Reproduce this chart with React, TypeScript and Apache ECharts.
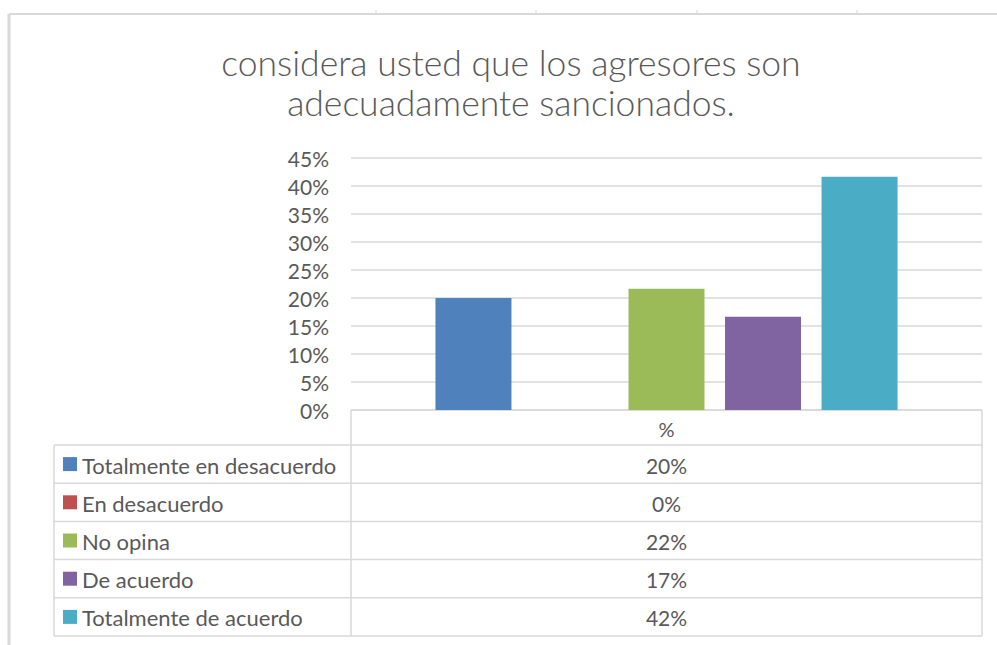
import React, { useEffect, useRef } from "react";
import * as echarts from "echarts";

const titleLines = ["considera usted que los agresores son", "adecuadamente sancionados."];
const categoryLabel = "%";
const seriesNames = [
  "Totalmente en desacuerdo",
  "En desacuerdo",
  "No opina",
  "De acuerdo",
  "Totalmente de acuerdo",
];
const seriesValues = [20.0, 0, 21.67, 16.67, 41.67];
const seriesColors = ["#4f81bd", "#c0504d", "#9bbb59", "#8064a2", "#4bacc6"];
const yTicks = { min: 0, max: 45, interval: 5 };

const FONT = "Lato, 'Open Sans', sans-serif";
const TEXT = "#595959";
const LINE = "#d9d9d9";

export default function App() {
  const ref = useRef<HTMLDivElement>(null);
  useEffect(() => {
    document.body.style.margin = "0";
    const chart = echarts.init(ref.current!, null, { renderer: "svg" });

    const plotLeft = 351;
    const plotRight = 982;
    const plotTop = 158;
    const plotBottom = 410;
    const tableLeft = 54;
    const headerBottom = 445;
    const rowH = 38.2;
    const tableBottom = headerBottom + rowH * seriesNames.length;
    const valueX = (plotLeft + plotRight) / 2;

    const graphics: any[] = [];
    graphics.push({ type: "line", shape: { x1: 9, y1: 14, x2: 997, y2: 14 }, style: { stroke: LINE, lineWidth: 2 } });
    graphics.push({ type: "line", shape: { x1: 9, y1: 14, x2: 9, y2: 645 }, style: { stroke: LINE, lineWidth: 3 } });
    [376, 536, 697, 857].forEach((x) =>
      graphics.push({ type: "line", shape: { x1: x, y1: 10, x2: x, y2: 14 }, style: { stroke: LINE, lineWidth: 1 } })
    );
    graphics.push({ type: "line", shape: { x1: plotLeft, y1: plotBottom, x2: plotRight, y2: plotBottom }, style: { stroke: LINE, lineWidth: 1.5 } });
    for (let i = 0; i <= seriesNames.length; i++) {
      const y = headerBottom + rowH * i;
      graphics.push({ type: "line", shape: { x1: tableLeft, y1: y, x2: plotRight, y2: y }, style: { stroke: LINE, lineWidth: 1.5 } });
    }
    graphics.push({ type: "line", shape: { x1: tableLeft, y1: headerBottom, x2: tableLeft, y2: tableBottom }, style: { stroke: LINE, lineWidth: 1.5 } });
    graphics.push({ type: "line", shape: { x1: plotLeft, y1: plotBottom, x2: plotLeft, y2: tableBottom }, style: { stroke: LINE, lineWidth: 1.5 } });
    graphics.push({ type: "line", shape: { x1: plotRight, y1: plotBottom, x2: plotRight, y2: tableBottom }, style: { stroke: LINE, lineWidth: 1.5 } });
    graphics.push({
      type: "text",
      x: valueX,
      y: (plotBottom + headerBottom) / 2 + 1,
      style: { text: categoryLabel, fill: TEXT, font: `20px ${FONT}`, align: "center", verticalAlign: "middle" },
    });
    seriesNames.forEach((name, i) => {
      const cy = headerBottom + rowH * i + rowH / 2;
      graphics.push({ type: "rect", shape: { x: 63, y: cy - 7, width: 14, height: 14 }, style: { fill: seriesColors[i] } });
      graphics.push({
        type: "text",
        x: 82,
        y: cy + 1,
        style: { text: name, fill: TEXT, font: `22px ${FONT}`, align: "left", verticalAlign: "middle" },
      });
      graphics.push({
        type: "text",
        x: valueX,
        y: cy + 1,
        style: { text: Math.round(seriesValues[i]) + "%", fill: TEXT, font: `21px ${FONT}`, align: "center", verticalAlign: "middle" },
      });
    });
    titleLines.forEach((t, i) => {
      graphics.push({
        type: "text",
        x: 511,
        y: 62 + i * 40,
        style: { text: t, fill: TEXT, font: `300 35.5px ${FONT}`, align: "center", verticalAlign: "middle" },
      });
    });

    chart.setOption({
      animation: false,
      backgroundColor: "#ffffff",
      grid: { left: plotLeft, right: 997 - plotRight, top: plotTop, bottom: 645 - plotBottom, containLabel: false },
      xAxis: {
        type: "category",
        data: [categoryLabel],
        axisLine: { show: false },
        axisTick: { show: false },
        axisLabel: { show: false },
      },
      yAxis: {
        type: "value",
        min: yTicks.min,
        max: yTicks.max,
        interval: yTicks.interval,
        axisLine: { show: false },
        axisTick: { show: false },
        axisLabel: { formatter: "{value}%", color: TEXT, fontSize: 21, fontFamily: FONT, margin: 22 },
        splitLine: { lineStyle: { color: LINE, width: 1.5 } },
      },
      series: seriesNames.map((name, i) => ({
        type: "bar",
        name,
        data: [seriesValues[i]],
        barWidth: 76,
        barGap: "27%",
        itemStyle: { color: seriesColors[i] },
      })),
      graphic: graphics,
    });
    return () => chart.dispose();
  }, []);
  return <div ref={ref} style={{ width: 997, height: 645 }} />;
}
